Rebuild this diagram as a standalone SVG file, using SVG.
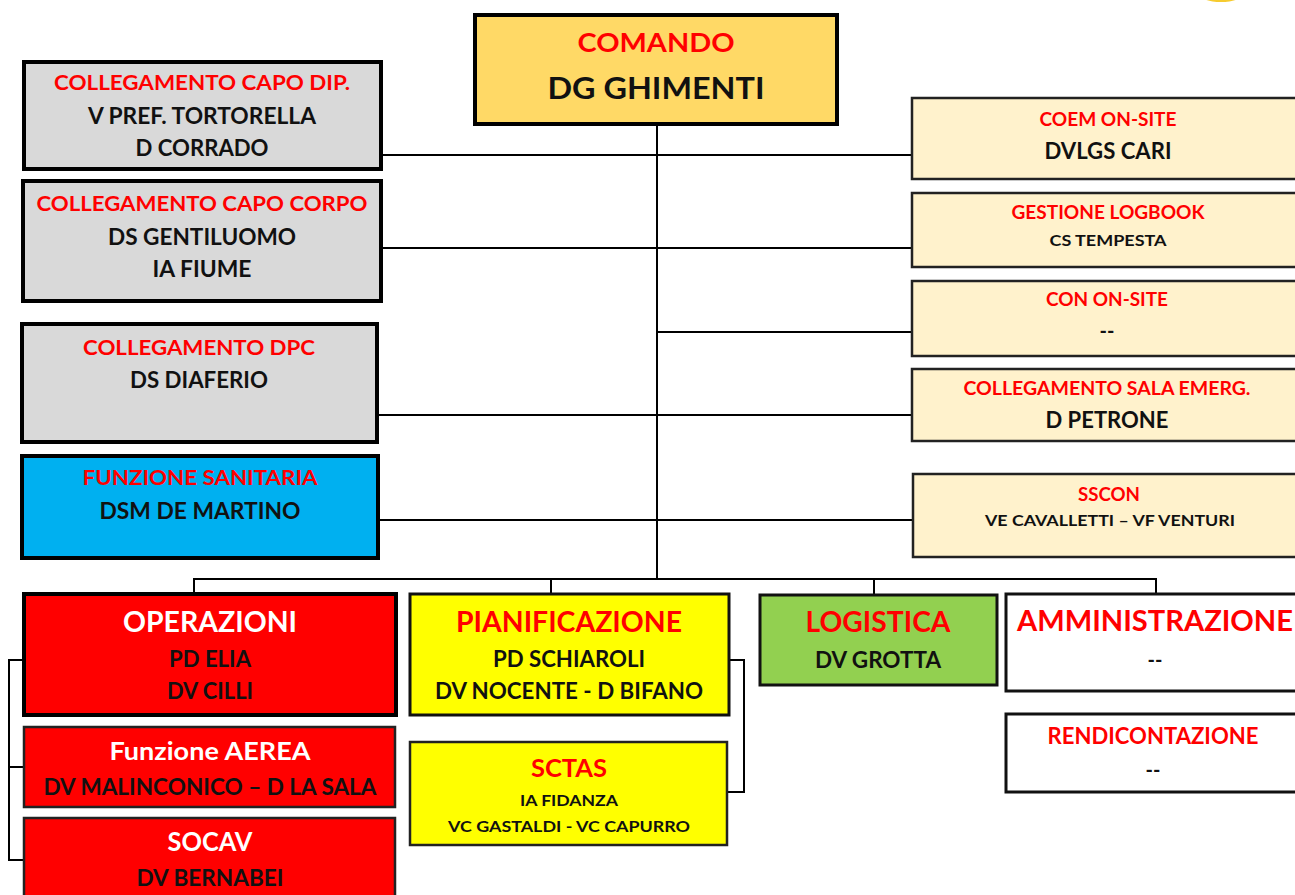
<svg xmlns="http://www.w3.org/2000/svg" width="1295" height="895" viewBox="0 0 1295 895">
<style>
text{font-family:Lato,"Open Sans","Liberation Sans",sans-serif;font-weight:bold;text-anchor:middle}
.r{fill:#FF0000}.k{fill:#111}.w{fill:#fff}
.b4{stroke:#000;stroke-width:4}.b3{stroke:#111;stroke-width:3}.b2{stroke:#222;stroke-width:2.5}
.gray{fill:#D9D9D9}.cream{fill:#FFF2CC}.red{fill:#FF0000}.yel{fill:#FFFF00}
.con{stroke:#000;stroke-width:2;fill:none}
</style>
<rect width="1295" height="895" fill="#fff"/>
<ellipse cx="1221" cy="-6" rx="22" ry="8" fill="#F5C518" opacity="0.9"/>
<g id="connectors" class="con">
<path d="M657 124V579"/>
<path d="M381 155H912"/>
<path d="M381 248H912"/>
<path d="M657 332H912"/>
<path d="M378 415H912"/>
<path d="M378 520H913"/>
<path d="M194 594V579H1156V594"/>
<path d="M551 579V594M874 579V594"/>
<path d="M24 660H9V860H24M9 767H24"/>
<path d="M729 660H744V792H727"/>
</g>
<g id="comando"><rect x="475" y="15" width="362" height="109" fill="#FFD966" class="b4"/>
<text x="656" y="52" font-size="26" class="r" textLength="157" lengthAdjust="spacingAndGlyphs">COMANDO</text>
<text x="656" y="99" font-size="30" class="k" textLength="217" lengthAdjust="spacingAndGlyphs">DG GHIMENTI</text></g>
<g id="capo-dip"><rect x="24" y="62" width="357" height="107" class="gray b4"/>
<text x="202" y="90" font-size="20" class="r" textLength="296" lengthAdjust="spacingAndGlyphs">COLLEGAMENTO CAPO DIP.</text>
<text x="202" y="124" font-size="22" class="k" textLength="228" lengthAdjust="spacingAndGlyphs">V PREF. TORTORELLA</text>
<text x="202" y="156" font-size="22" class="k" textLength="133" lengthAdjust="spacingAndGlyphs">D CORRADO</text></g>
<g id="capo-corpo"><rect x="23" y="181" width="358" height="120" class="gray b4"/>
<text x="202" y="211" font-size="20" class="r" textLength="331" lengthAdjust="spacingAndGlyphs">COLLEGAMENTO CAPO CORPO</text>
<text x="202" y="245" font-size="22" class="k" textLength="188" lengthAdjust="spacingAndGlyphs">DS GENTILUOMO</text>
<text x="202" y="277" font-size="22" class="k" textLength="99" lengthAdjust="spacingAndGlyphs">IA FIUME</text></g>
<g id="dpc"><rect x="22" y="324" width="355" height="118" class="gray b4"/>
<text x="199" y="355" font-size="20" class="r" textLength="232" lengthAdjust="spacingAndGlyphs">COLLEGAMENTO DPC</text>
<text x="199" y="388" font-size="22" class="k" textLength="138" lengthAdjust="spacingAndGlyphs">DS DIAFERIO</text></g>
<g id="sanitaria"><rect x="22" y="456" width="356" height="102" fill="#00B0F0" class="b4"/>
<text x="200" y="485" font-size="20" class="r" textLength="235" lengthAdjust="spacingAndGlyphs">FUNZIONE SANITARIA</text>
<text x="200" y="519" font-size="22" class="k" textLength="201" lengthAdjust="spacingAndGlyphs">DSM DE MARTINO</text></g>
<g id="coem"><rect x="912" y="98" width="400" height="81" class="cream b2"/>
<text x="1108" y="126" font-size="18" class="r" textLength="137" lengthAdjust="spacingAndGlyphs">COEM ON-SITE</text>
<text x="1108" y="159" font-size="22" class="k" textLength="127" lengthAdjust="spacingAndGlyphs">DVLGS CARI</text></g>
<g id="logbook"><rect x="912" y="193" width="400" height="74" class="cream b2"/>
<text x="1108" y="219" font-size="18" class="r" textLength="193" lengthAdjust="spacingAndGlyphs">GESTIONE LOGBOOK</text>
<text x="1108" y="246" font-size="16" class="k" textLength="117" lengthAdjust="spacingAndGlyphs">CS TEMPESTA</text></g>
<g id="con-onsite"><rect x="912" y="281" width="400" height="75" class="cream b2"/>
<text x="1107" y="306" font-size="18" class="r" textLength="122" lengthAdjust="spacingAndGlyphs">CON ON-SITE</text>
<text x="1107" y="338" font-size="20" class="k">--</text></g>
<g id="sala-emerg"><rect x="912" y="369" width="400" height="72" class="cream b2"/>
<text x="1107" y="395" font-size="18" class="r" textLength="287" lengthAdjust="spacingAndGlyphs">COLLEGAMENTO SALA EMERG.</text>
<text x="1107" y="428" font-size="22" class="k" textLength="123" lengthAdjust="spacingAndGlyphs">D PETRONE</text></g>
<g id="sscon"><rect x="913" y="474" width="400" height="83" class="cream b2"/>
<text x="1109" y="501" font-size="18" class="r" textLength="62" lengthAdjust="spacingAndGlyphs">SSCON</text>
<text x="1110" y="526" font-size="15" class="k" textLength="250" lengthAdjust="spacingAndGlyphs">VE CAVALLETTI – VF VENTURI</text></g>
<g id="operazioni"><rect x="24" y="594" width="372" height="121" class="red b4"/>
<text x="210" y="632" font-size="28" class="w" textLength="174" lengthAdjust="spacingAndGlyphs">OPERAZIONI</text>
<text x="210" y="667" font-size="22" class="k" textLength="82" lengthAdjust="spacingAndGlyphs">PD ELIA</text>
<text x="210" y="699" font-size="22" class="k" textLength="86" lengthAdjust="spacingAndGlyphs">DV CILLI</text></g>
<g id="aerea"><rect x="24" y="727" width="371" height="80" class="red b2"/>
<text x="210" y="760" font-size="24" class="w" textLength="201" lengthAdjust="spacingAndGlyphs">Funzione AEREA</text>
<text x="210" y="795" font-size="22" class="k" textLength="333" lengthAdjust="spacingAndGlyphs">DV MALINCONICO – D LA SALA</text></g>
<g id="socav"><rect x="24" y="818" width="371" height="90" class="red b2"/>
<text x="210" y="851" font-size="26" class="w" textLength="85" lengthAdjust="spacingAndGlyphs">SOCAV</text>
<text x="210" y="886" font-size="22" class="k" textLength="147" lengthAdjust="spacingAndGlyphs">DV BERNABEI</text></g>
<g id="pianificazione"><rect x="410" y="594" width="319" height="121" class="yel b3"/>
<text x="569" y="632" font-size="28" class="r" textLength="226" lengthAdjust="spacingAndGlyphs">PIANIFICAZIONE</text>
<text x="569" y="667" font-size="22" class="k" textLength="152" lengthAdjust="spacingAndGlyphs">PD SCHIAROLI</text>
<text x="569" y="699" font-size="22" class="k" textLength="268" lengthAdjust="spacingAndGlyphs">DV NOCENTE - D BIFANO</text></g>
<g id="sctas"><rect x="410" y="742" width="317" height="103" class="yel b2"/>
<text x="569" y="777" font-size="25" class="r" textLength="76" lengthAdjust="spacingAndGlyphs">SCTAS</text>
<text x="569" y="806" font-size="16" class="k" textLength="98" lengthAdjust="spacingAndGlyphs">IA FIDANZA</text>
<text x="569" y="832" font-size="16" class="k" textLength="242" lengthAdjust="spacingAndGlyphs">VC GASTALDI - VC CAPURRO</text></g>
<g id="logistica"><rect x="760" y="595" width="237" height="90" fill="#92D050" class="b3"/>
<text x="878" y="632" font-size="29" class="r" textLength="145" lengthAdjust="spacingAndGlyphs">LOGISTICA</text>
<text x="878" y="668" font-size="22" class="k" textLength="126" lengthAdjust="spacingAndGlyphs">DV GROTTA</text></g>
<g id="amministrazione"><rect x="1006" y="594" width="310" height="97" fill="#fff" class="b3"/>
<text x="1155" y="631" font-size="29" class="r" textLength="276" lengthAdjust="spacingAndGlyphs">AMMINISTRAZIONE</text>
<text x="1155" y="667" font-size="20" class="k">--</text></g>
<g id="rendicontazione"><rect x="1006" y="714" width="310" height="78" fill="#fff" class="b3"/>
<text x="1153" y="744" font-size="22" class="r" textLength="211" lengthAdjust="spacingAndGlyphs">RENDICONTAZIONE</text>
<text x="1153" y="777" font-size="20" class="k">--</text></g>
</svg>
